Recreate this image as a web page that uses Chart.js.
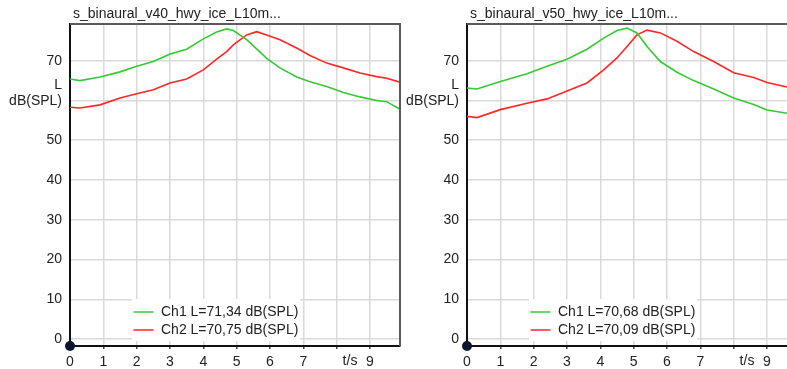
<!DOCTYPE html>
<html>
<head>
<meta charset="utf-8">
<script src="https://cdn.jsdelivr.net/npm/chart.js@4.4.1/dist/chart.umd.min.js"></script>
<style>
  html, body { margin: 0; padding: 0; background: #fff; overflow: hidden; }
  body { width: 787px; height: 369px; position: relative; }
  canvas { position: absolute; top: 0; }
  #chartL { left: 0; }
  #chartR { left: 397px; }
</style>
</head>
<body>
<canvas id="chartL" width="401" height="369"></canvas>
<canvas id="chartR" width="401" height="369"></canvas>
<script>
// time axis (seconds) and levels in dB(SPL)
const timesL = [0, 0.3, 0.9, 1.5, 2, 2.5, 3, 3.5, 4, 4.4, 4.7, 4.9, 5.3, 5.6, 5.9, 6.3, 6.8, 7.2, 7.7, 8.2, 8.7, 9.2, 9.5, 9.9];
const ch1L = [65.4, 65.0, 65.9, 67.2, 68.6, 69.8, 71.7, 72.9, 75.5, 77.2, 78.0, 77.6, 75.3, 73.0, 70.6, 68.2, 65.9, 64.7, 63.5, 62.0, 60.9, 60.0, 59.7, 57.8];
const ch2L = [58.3, 58.1, 58.9, 60.6, 61.7, 62.7, 64.4, 65.4, 67.7, 70.4, 72.3, 74.0, 76.5, 77.3, 76.5, 75.3, 73.2, 71.3, 69.4, 68.2, 66.9, 66.0, 65.6, 64.6];

const timesR = [0, 0.3, 1.0, 1.8, 2.4, 3.0, 3.6, 4.1, 4.5, 4.8, 5.1, 5.4, 5.8, 6.3, 6.8, 7.4, 8.0, 8.6, 9.0, 9.6, 9.9];
const ch1R = [63.1, 62.9, 64.8, 66.7, 68.6, 70.4, 72.9, 75.7, 77.6, 78.2, 77.0, 73.6, 69.8, 67.1, 65.0, 62.9, 60.6, 59.0, 57.6, 56.8, 56.5];
const ch2R = [56.0, 55.7, 57.7, 59.3, 60.4, 62.4, 64.4, 67.7, 70.7, 73.6, 76.5, 77.7, 77.0, 74.9, 72.3, 69.8, 67.0, 65.8, 64.5, 63.4, 63.0];

const titleL = 's_binaural_v40_hwy_ice_L10m...';
const titleR = 's_binaural_v50_hwy_ice_L10m...';
const legendL = ['Ch1 L=71,34 dB(SPL)', 'Ch2 L=70,75 dB(SPL)'];
const legendR = ['Ch1 L=70,68 dB(SPL)', 'Ch2 L=70,09 dB(SPL)'];

const xTicks = [0, 1, 2, 3, 4, 5, 6, 7, 8, 9];
const yTicks = [0, 10, 20, 30, 40, 50, 60, 70];
const xAxisName = 't/s';
const yAxisName = ['L', 'dB(SPL)'];

const GREEN = '#36c936';
const RED = '#ff2626';

Chart.defaults.font.family = '"Liberation Sans", Arial, sans-serif';
Chart.defaults.font.size = 14;
Chart.defaults.color = '#222';

function pts(xs, ys) {
  return xs.map((x, i) => ({ x: x, y: ys[i] }));
}

// frame, axis names, legend box, origin dot
const extras = {
  id: 'extras',
  afterDraw(chart, args, opts) {
    const c = chart.ctx;
    const a = chart.chartArea;
    const xs = chart.scales.x, ys = chart.scales.y;
    c.save();
    // top + right frame
    c.strokeStyle = '#5a5a5a';
    c.lineWidth = 2;
    c.beginPath();
    c.moveTo(a.left, a.top);
    c.lineTo(a.right, a.top);
    c.lineTo(a.right, a.bottom);
    c.stroke();

    c.font = '14px "Liberation Sans", Arial, sans-serif';
    c.fillStyle = '#222';
    // title
    c.textAlign = 'left';
    c.textBaseline = 'middle';
    c.fillText(opts.title, a.left + 3, 14);

    // y axis name in place of 60
    const y60 = ys.getPixelForValue(60);
    c.textAlign = 'right';
    c.fillText(yAxisName[0], a.left - 8, y60 - 15);
    c.fillText(yAxisName[1], a.left - 8, y60 + 1);

    // x axis name in place of 8
    c.textAlign = 'center';
    c.fillText(xAxisName, xs.getPixelForValue(8.4), 361);

    // legend
    const lx = a.left + 62;
    c.fillStyle = '#fff';
    c.fillRect(lx, a.bottom - 47, 168, 42);
    const names = opts.legend;
    const cols = [GREEN, RED];
    for (let i = 0; i < names.length; i++) {
      const yy = a.bottom - 34 + i * 18;
      c.strokeStyle = cols[i];
      c.lineWidth = 1.5;
      c.beginPath();
      c.moveTo(lx + 1.5, yy);
      c.lineTo(lx + 21.5, yy);
      c.stroke();
      c.fillStyle = '#222';
      c.textAlign = 'left';
      c.fillText(names[i], lx + 29, yy);
    }

    // dot at origin
    c.fillStyle = '#0b1631';
    c.beginPath();
    c.arc(a.left, a.bottom, 5, 0, Math.PI * 2);
    c.fill();
    c.restore();
  }
};

function makeChart(id, xs, g, r, title, legend) {
  return new Chart(document.getElementById(id), {
    type: 'line',
    data: {
      datasets: [
        { label: legend[0], data: pts(xs, g), borderColor: GREEN, borderWidth: 1.6, pointRadius: 0, tension: 0 },
        { label: legend[1], data: pts(xs, r), borderColor: RED, borderWidth: 1.6, pointRadius: 0, tension: 0 }
      ]
    },
    options: {
      responsive: false,
      animation: false,
      events: [],
      layout: { padding: { top: 24, right: 1, bottom: 0, left: 0 } },
      plugins: {
        legend: { display: false },
        tooltip: { enabled: false },
        extras: { title: title, legend: legend }
      },
      scales: {
        x: {
          type: 'linear',
          min: 0,
          max: 9.9,
          afterBuildTicks: s => { s.ticks = xTicks.map(v => ({ value: v })); },
          afterFit: s => { s.height = 23; },
          ticks: {
            padding: 5,
            maxRotation: 0,
            autoSkip: false,
            callback: v => (v === 8 ? '' : String(v))
          },
          grid: { color: '#dadada', lineWidth: 1.5, tickLength: 3, tickColor: '#444' },
          border: { color: '#111', width: 2 }
        },
        y: {
          min: -1.76,
          max: 79.24,
          afterBuildTicks: s => { s.ticks = yTicks.map(v => ({ value: v })); },
          afterFit: s => { s.width = 70; },
          ticks: {
            padding: 8,
            callback: v => (v === 60 ? '' : String(v))
          },
          grid: { color: '#dadada', lineWidth: 1.5, drawTicks: false },
          border: { color: '#111', width: 2 }
        }
      }
    },
    plugins: [extras]
  });
}

makeChart('chartL', timesL, ch1L, ch2L, titleL, legendL);
makeChart('chartR', timesR, ch1R, ch2R, titleR, legendR);
</script>
</body>
</html>
